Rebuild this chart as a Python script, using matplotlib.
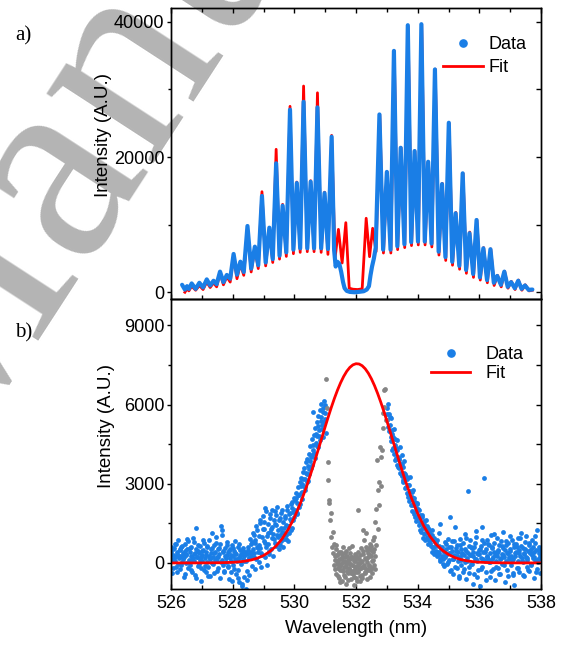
import matplotlib
matplotlib.use("Agg")
import matplotlib.pyplot as plt
from matplotlib.lines import Line2D
from matplotlib.ticker import MultipleLocator, FixedLocator, NullLocator

# ---------------- a) rotational Raman spectrum ----------------
a_data_wl = [
    526.36, 526.45, 526.52, 526.58, 526.67, 526.80, 526.92, 527.04, 527.16, 527.27,
    527.38, 527.48, 527.59, 527.70, 527.81, 527.92, 528.03, 528.14, 528.25, 528.36,
    528.48, 528.60, 528.72, 528.83, 528.95, 529.07, 529.19, 529.30, 529.41, 529.52,
    529.62, 529.74, 529.86, 529.97, 530.08, 530.19, 530.30, 530.42, 530.53, 530.64,
    530.75, 530.87, 530.98, 531.09, 531.21, 531.29, 531.34, 531.40, 531.46, 531.52,
    531.58, 531.63, 531.70, 531.80, 531.95, 532.10, 532.25, 532.35, 532.42, 532.47,
    532.52, 532.58, 532.64, 532.76, 532.88, 533.00, 533.12, 533.23, 533.34, 533.45,
    533.57, 533.68, 533.79, 533.90, 534.01, 534.12, 534.23, 534.34, 534.45, 534.56,
    534.68, 534.79, 534.90, 535.01, 535.12, 535.23, 535.35, 535.46, 535.57, 535.68,
    535.80, 535.91, 536.02, 536.13, 536.25, 536.36, 536.47, 536.58, 536.70, 536.81,
    536.92, 537.03, 537.15, 537.26, 537.37, 537.48, 537.60, 537.72,
]
a_data_counts = [
    1100, 400, 900, 500, 1300, 500, 1400, 700, 1900, 1000,
    1700, 1200, 3050, 1500, 2560, 2000, 5660, 2600, 4520, 3000,
    9800, 3500, 6740, 4000, 14240, 4400, 9550, 4900, 19070, 5400,
    12800, 5900, 27000, 6300, 16150, 6500, 28170, 6500, 16350, 6500,
    27340, 6500, 14670, 6400, 23000, 6250, 3800, 4500, 4200, 3000,
    1500, 600, 200, 50, 0, 60, 150, 400, 900, 2500,
    3800, 5000, 6600, 26300, 6300, 17800, 6300, 35700, 6800, 21370,
    7100, 39500, 7400, 20890, 7500, 39650, 7500, 19300, 7200, 32960,
    6000, 16000, 5200, 25070, 4500, 11680, 3900, 17590, 3300, 8720,
    2700, 10690, 2200, 6500, 1800, 6360, 1400, 2410, 1100, 3050,
    800, 1500, 600, 1700, 500, 1000, 350, 400,
]
a_fit_wl = [
    526.45, 526.52, 526.58, 526.67, 526.80, 526.92, 527.04, 527.16, 527.27, 527.38,
    527.48, 527.59, 527.70, 527.81, 527.92, 528.03, 528.14, 528.25, 528.36, 528.48,
    528.60, 528.72, 528.83, 528.95, 529.07, 529.19, 529.30, 529.41, 529.52, 529.62,
    529.74, 529.86, 529.97, 530.08, 530.19, 530.30, 530.42, 530.53, 530.64, 530.75,
    530.87, 530.98, 531.09, 531.21, 531.32, 531.43, 531.55, 531.67, 531.78, 531.90,
    532.05, 532.20, 532.33, 532.44, 532.54, 532.65, 532.77, 532.89, 533.01, 533.13,
    533.24, 533.35, 533.46, 533.58, 533.69, 533.80, 533.91, 534.02, 534.13, 534.24,
    534.35, 534.46, 534.57, 534.69, 534.80, 534.91, 535.02, 535.13, 535.24, 535.36,
    535.47, 535.58, 535.69, 535.81, 535.92, 536.03, 536.14, 536.26, 536.37, 536.48,
    536.59, 536.71, 536.82, 536.93, 537.04, 537.16, 537.27, 537.38, 537.49, 537.61,
    537.72,
]
a_fit_counts = [
    0, 500, 200, 900, 300, 1000, 400, 1500, 700, 1400,
    800, 2800, 1100, 2300, 1500, 5300, 2000, 4200, 2500, 9600,
    3000, 6500, 3500, 14870, 3900, 9300, 4400, 21140, 4900, 13000,
    5300, 27500, 5700, 16300, 5900, 30500, 6000, 16500, 6000, 29500,
    5900, 14800, 5600, 23200, 5000, 9300, 4330, 10290, 600, 450,
    400, 500, 10940, 5260, 9460, 6000, 26300, 5800, 17800, 5800,
    35700, 6300, 21400, 6600, 39300, 6900, 20900, 7000, 39650, 7000,
    19300, 6700, 33000, 5500, 16100, 4700, 25000, 4000, 11800, 3400,
    17600, 2800, 8900, 2200, 10700, 1800, 6600, 1400, 6400, 1000,
    2500, 800, 3100, 600, 1600, 400, 1800, 300, 1100, 200,
    300,
]

# ---------------- b) scattered-light spectrum ----------------
b_data_wl = [
    526.00, 526.02, 526.04, 526.06, 526.08,  526.10, 526.12, 526.14, 526.16, 526.18,
    526.20, 526.22, 526.24, 526.26, 526.28,  526.30, 526.32, 526.34, 526.36, 526.38,
    526.40, 526.42, 526.44, 526.46, 526.48,  526.50, 526.52, 526.54, 526.56, 526.58,
    526.60, 526.62, 526.64, 526.66, 526.68,  526.70, 526.72, 526.74, 526.76, 526.78,
    526.80, 526.82, 526.84, 526.86, 526.88,  526.90, 526.92, 526.94, 526.96, 526.98,
    527.00, 527.02, 527.04, 527.06, 527.08,  527.10, 527.12, 527.14, 527.16, 527.18,
    527.20, 527.22, 527.24, 527.26, 527.28,  527.30, 527.32, 527.34, 527.36, 527.38,
    527.40, 527.42, 527.44, 527.46, 527.48,  527.50, 527.52, 527.54, 527.56, 527.58,
    527.60, 527.62, 527.64, 527.66, 527.68,  527.70, 527.72, 527.74, 527.76, 527.78,
    527.80, 527.82, 527.84, 527.86, 527.88,  527.90, 527.92, 527.94, 527.96, 527.98,
    528.00, 528.02, 528.04, 528.06, 528.08,  528.10, 528.12, 528.14, 528.16, 528.18,
    528.20, 528.22, 528.24, 528.26, 528.28,  528.30, 528.32, 528.34, 528.36, 528.38,
    528.40, 528.42, 528.44, 528.46, 528.48,  528.50, 528.52, 528.54, 528.56, 528.58,
    528.60, 528.62, 528.64, 528.66, 528.68,  528.70, 528.72, 528.74, 528.76, 528.78,
    528.80, 528.82, 528.84, 528.86, 528.88,  528.90, 528.92, 528.94, 528.96, 528.98,
    529.00, 529.02, 529.04, 529.06, 529.08,  529.10, 529.12, 529.14, 529.16, 529.18,
    529.20, 529.22, 529.24, 529.26, 529.28,  529.30, 529.32, 529.34, 529.36, 529.38,
    529.40, 529.42, 529.44, 529.46, 529.48,  529.50, 529.52, 529.54, 529.56, 529.58,
    529.60, 529.62, 529.64, 529.66, 529.68,  529.70, 529.72, 529.74, 529.76, 529.78,
    529.80, 529.82, 529.84, 529.86, 529.88,  529.90, 529.92, 529.94, 529.96, 529.98,
    530.00, 530.02, 530.04, 530.06, 530.08,  530.10, 530.12, 530.14, 530.16, 530.18,
    530.20, 530.22, 530.24, 530.26, 530.28,  530.30, 530.32, 530.34, 530.36, 530.38,
    530.40, 530.42, 530.44, 530.46, 530.48,  530.50, 530.52, 530.54, 530.56, 530.58,
    530.60, 530.62, 530.64, 530.66, 530.68,  530.70, 530.72, 530.74, 530.76, 530.78,
    530.80, 530.82, 530.84, 530.86, 530.88,  530.90, 530.92, 530.94, 530.96, 530.98,
    531.00, 531.02,
    533.00, 533.02, 533.04, 533.06, 533.08,  533.10, 533.12, 533.14, 533.16, 533.18,
    533.20, 533.22, 533.24, 533.26, 533.28,  533.30, 533.32, 533.34, 533.36, 533.38,
    533.40, 533.42, 533.44, 533.46, 533.48,  533.50, 533.52, 533.54, 533.56, 533.58,
    533.60, 533.62, 533.64, 533.66, 533.68,  533.70, 533.72, 533.74, 533.76, 533.78,
    533.80, 533.82, 533.84, 533.86, 533.88,  533.90, 533.92, 533.94, 533.96, 533.98,
    534.00, 534.02, 534.04, 534.06, 534.08,  534.10, 534.12, 534.14, 534.16, 534.18,
    534.20, 534.22, 534.24, 534.26, 534.28,  534.30, 534.32, 534.34, 534.36, 534.38,
    534.40, 534.42, 534.44, 534.46, 534.48,  534.50, 534.52, 534.54, 534.56, 534.58,
    534.60, 534.62, 534.64, 534.66, 534.68,  534.70, 534.72, 534.74, 534.76, 534.78,
    534.80, 534.82, 534.84, 534.86, 534.88,  534.90, 534.92, 534.94, 534.96, 534.98,
    535.00, 535.02, 535.04, 535.06, 535.08,  535.10, 535.12, 535.14, 535.16, 535.18,
    535.20, 535.22, 535.24, 535.26, 535.28,  535.30, 535.32, 535.34, 535.36, 535.38,
    535.40, 535.42, 535.44, 535.46, 535.48,  535.50, 535.52, 535.54, 535.56, 535.58,
    535.60, 535.62, 535.64, 535.66, 535.68,  535.70, 535.72, 535.74, 535.76, 535.78,
    535.80, 535.82, 535.84, 535.86, 535.88,  535.90, 535.92, 535.94, 535.96, 535.98,
    536.00, 536.02, 536.04, 536.06, 536.08,  536.10, 536.12, 536.14, 536.16, 536.18,
    536.20, 536.22, 536.24, 536.26, 536.28,  536.30, 536.32, 536.34, 536.36, 536.38,
    536.40, 536.42, 536.44, 536.46, 536.48,  536.50, 536.52, 536.54, 536.56, 536.58,
    536.60, 536.62, 536.64, 536.66, 536.68,  536.70, 536.72, 536.74, 536.76, 536.78,
    536.80, 536.82, 536.84, 536.86, 536.88,  536.90, 536.92, 536.94, 536.96, 536.98,
    537.00, 537.02, 537.04, 537.06, 537.08,  537.10, 537.12, 537.14, 537.16, 537.18,
    537.20, 537.22, 537.24, 537.26, 537.28,  537.30, 537.32, 537.34, 537.36, 537.38,
    537.40, 537.42, 537.44, 537.46, 537.48,  537.50, 537.52, 537.54, 537.56, 537.58,
    537.60, 537.62, 537.64, 537.66, 537.68,  537.70, 537.72, 537.74, 537.76, 537.78,
    537.80, 537.82, 537.84, 537.86, 537.88,  537.90, 537.92, 537.94, 537.96, 537.98,
    538.00,
]
b_data_counts = [
    620, 150, -380, 310, 540,  90, 700, 230, -150, 410,
    330, -60, 860, 180, 520,  -240, 270, 610, 40, 380,
    150, -520, 460, 720, 10,  290, 540, -210, 830, 120,
    400, -90, 250, 600, -350,  180, 950, 70, 330, -460,
    520, 1330, 210, -120, 460,  -40, 380, 640, -680, 240,
    310, 70, 490, -270, 760,  190, -330, 420, 50, 600,
    -150, 280, 850, 130, -490,  360, 560, -20, 240, 690,
    -380, 120, 410, 970, 60,  230, -210, 530, 340, -560,
    720, 1380, 100, 1060, -90,  450, -300, 260, 580, 20,
    310, 790, -140, 410, -620,  180, 520, 60, -350, 660,
    270, -80, 470, 150, 830,  -420, 340, 90, 610, -260,
    200, -710, 480, -30, 350,  -880, 150, 560, -540, 260,
    420, -970, 80, 320, -300,  610, 190, -450, 380, 720,
    250, 780, -120, 540, 1050,  390, -230, 870, 160, 620,
    1240, 430, 20, 690, 1520,  560, -140, 980, 310, 1770,
    820, 1290, 240, 2080, 610,  1020, -80, 1480, 730, 340,
    1190, 1860, 520, 930, 1350,  270, 1100, 1640, 760, 1980,
    1420, 640, 2130, 980, 1240,  530, 1710, 1060, 1890, 820,
    1180, 620, 1540, 890, 1320,  1760, 1040, 1450, 2010, 830,
    1390, 1850, 1120, 1670, 2240,  1580, 2090, 1310, 1940, 2460,
    1730, 2380, 1960, 2650, 1840,  2270, 2890, 2120, 2560, 3080,
    2640, 3210, 2430, 2980, 3460,  2910, 3590, 3170, 2780, 3820,
    3370, 3930, 3120, 4140, 3560,  3880, 4420, 3610, 4690, 4070,
    5730, 4280, 4860, 3970, 5120,  4540, 5330, 4790, 5560, 4380,
    5020, 5780, 4650, 5390, 6010,  5240, 4760, 5880, 6120, 5470,
    5690, 4930,
    5870, 5420, 6010, 4980, 5640,  5210, 4630, 5480, 4890, 4270,
    4780, 4120, 5060, 4450, 3890,  4360, 3710, 4640, 4020, 3580,
    3990, 4410, 3420, 3760, 4070,  3290, 3640, 3050, 3860, 3370,
    2840, 3310, 2660, 3180, 2490,  2970, 2350, 2710, 3260, 2180,
    2510, 1980, 2760, 2240, 1870,  2310, 1740, 2080, 1590, 2270,
    1690, 2050, 1420, 1830, 1260,  1530, 1180, 1740, 1350, 950,
    1110, 1470, 870, 1290, 1620,  980, 1310, 720, 1150, 860,
    1080, 640, 920, 410, 1260,  560, 930, 320, 780, 470,
    640, 250, 870, 410, 1120,  380, 1480, 90, 540, 260,
    610, 150, 430, -120, 790,  280, 520, -60, 340, 900,
    610, 110, 1730, 360, -250,  470, 820, 140, -420, 300,
    1360, 250, 560, -180, 690,  80, 430, -560, 920, 210,
    540, -90, 330, 760, -340,  290, 1090, 20, 470, -610,
    180, 2720, 390, -150, 650,  860, -30, 310, 550, -790,
    250, 620, -420, 140, 980,  1210, 70, 390, -260, 500,
    330, -880, 640, 180, 1360,  -140, 420, 3200, 760, 60,
    510, -350, 240, 880, 130,  690, 20, -520, 370, 1050,
    160, 580, -230, 420, 740,  -650, 310, 90, 940, 260,
    450, -180, 680, 150, -410,  820, 330, -60, 570, 1180,
    210, -720, 480, 90, 660,  -280, 390, 750, 140, 1010,
    540, -90, 280, 860, -450,  160, 620, -840, 360, 710,
    420, -210, 930, 70, 500,  -350, 260, 640, 1140, 190,
    580, 30, -480, 370, 810,  240, 1020, 110, -160, 450,
    690, -300, 380, 540, -60,  300, 850, 170, -590, 430,
    760, 120, 490, -220, 1260,  50, 360, 620, 200, -380,
    480,
]

# second readout pass of the same spectrum (odd channels)
b_data2_wl = [
    526.01, 526.05, 526.09, 526.13, 526.17, 526.21, 526.25, 526.29, 526.33, 526.37,
    526.41, 526.45, 526.49, 526.53, 526.57, 526.61, 526.65, 526.69, 526.73, 526.77,
    526.81, 526.85, 526.89, 526.93, 526.97,
    527.01, 527.05, 527.09, 527.13, 527.17, 527.21, 527.25, 527.29, 527.33, 527.37,
    527.41, 527.45, 527.49, 527.53, 527.57, 527.61, 527.65, 527.69, 527.73, 527.77,
    527.81, 527.85, 527.89, 527.93, 527.97,
    528.01, 528.05, 528.09, 528.13, 528.17, 528.21, 528.25, 528.29, 528.33, 528.37,
    528.41, 528.45, 528.49, 528.53, 528.57, 528.61, 528.65, 528.69, 528.73, 528.77,
    528.81, 528.85, 528.89, 528.93, 528.97,
    529.01, 529.05, 529.09, 529.13, 529.17, 529.21, 529.25, 529.29, 529.33, 529.37,
    529.41, 529.45, 529.49, 529.53, 529.57, 529.61, 529.65, 529.69, 529.73, 529.77,
    529.81, 529.85, 529.89, 529.93, 529.97,
    530.01, 530.05, 530.09, 530.13, 530.17, 530.21, 530.25, 530.29, 530.33, 530.37,
    530.41, 530.45, 530.49, 530.53, 530.57, 530.61, 530.65, 530.69, 530.73, 530.77,
    530.81, 530.85, 530.89, 530.93, 530.97,
    531.01,
    533.01, 533.05, 533.09, 533.13, 533.17, 533.21, 533.25, 533.29, 533.33, 533.37,
    533.41, 533.45, 533.49, 533.53, 533.57, 533.61, 533.65, 533.69, 533.73, 533.77,
    533.81, 533.85, 533.89, 533.93, 533.97,
    534.01, 534.05, 534.09, 534.13, 534.17, 534.21, 534.25, 534.29, 534.33, 534.37,
    534.41, 534.45, 534.49, 534.53, 534.57, 534.61, 534.65, 534.69, 534.73, 534.77,
    534.81, 534.85, 534.89, 534.93, 534.97,
    535.01, 535.05, 535.09, 535.13, 535.17, 535.21, 535.25, 535.29, 535.33, 535.37,
    535.41, 535.45, 535.49, 535.53, 535.57, 535.61, 535.65, 535.69, 535.73, 535.77,
    535.81, 535.85, 535.89, 535.93, 535.97,
    536.01, 536.05, 536.09, 536.13, 536.17, 536.21, 536.25, 536.29, 536.33, 536.37,
    536.41, 536.45, 536.49, 536.53, 536.57, 536.61, 536.65, 536.69, 536.73, 536.77,
    536.81, 536.85, 536.89, 536.93, 536.97,
    537.01, 537.05, 537.09, 537.13, 537.17, 537.21, 537.25, 537.29, 537.33, 537.37,
    537.41, 537.45, 537.49, 537.53, 537.57, 537.61, 537.65, 537.69, 537.73, 537.77,
    537.81, 537.85, 537.89, 537.93, 537.97,
]
b_data2_counts = [
    410, -180, 560, 90, 730, -330, 260, 480, -70, 640,
    210, -420, 350, 920, 30, 570, -260, 140, 810, 380,
    -560, 240, 690, 110, -190,
    450, 860, -110, 300, 640, -480, 190, 520, 1120, -50,
    370, 760, -290, 230, 580, 20, 1240, 410, -360, 170,
    690, -130, 440, 310, -700,
    560, -240, 380, 130, -590, 720, 260, -810, 450, 60,
    330, -660, 500, 180, 890, 420, 1130, 230, 760, 1390,
    580, 1010, 1640, 370, 1280,
    1560, 740, 1950, 1130, 460, 1720, 1280, 2010, 890, 1460,
    1830, 1070, 1610, 680, 1340, 1990, 1150, 1700, 920, 2170,
    1410, 1880, 1230, 2290, 1620,
    2010, 2460, 1880, 2570, 2240, 2930, 2680, 3190, 2860, 3420,
    3080, 3690, 3350, 4020, 3710, 4450, 4170, 4880, 4420, 5170,
    4790, 5540, 5080, 5720, 5350,
    5980,
    5660, 5140, 5530, 4760, 5020, 4340, 4690, 3980, 4280, 3620,
    3910, 3380, 3740, 3130, 3420, 2890, 3210, 2620, 2960, 2410,
    2690, 2180, 2470, 1960, 2230,
    1780, 2010, 1540, 1800, 1310, 1580, 1150, 1390, 920, 1230,
    760, 1040, 590, 880, 420, 760, 290, 650, 150, 560,
    -40, 470, 210, 720, 30,
    380, -310, 590, 140, 820, -170, 450, 260, -480, 690,
    110, 370, -220, 540, 950, 80, -390, 300, 610, -60,
    420, 770, 150, -540, 330,
    520, -240, 880, 130, 410, -630, 270, 700, 40, -310,
    590, 240, 1090, -150, 360, 480, -420, 170, 650, 290,
    -80, 830, 380, -510, 220,
    460, 110, -370, 720, 250, 590, -190, 380, 940, 60,
    -460, 330, 510, 180, -280, 770, 400, -90, 620, 240,
    1030, -330, 150, 490, 280,
]

# points inside the laser-line notch (filter region)
b_notch_wl = [
    531.04, 531.06, 531.08, 531.10, 531.12,  531.14, 531.16, 531.18, 531.20, 531.22,
    531.24, 531.26, 531.28, 531.30, 531.32,  531.34, 531.36, 531.38, 531.40, 531.42,
    531.44, 531.46, 531.48, 531.50, 531.52,  531.54, 531.56, 531.58, 531.60, 531.62,
    531.64, 531.66, 531.68, 531.70, 531.72,  531.74, 531.76, 531.78, 531.80, 531.82,
    531.84, 531.86, 531.88, 531.90, 531.92,  531.94, 531.96, 531.98, 532.00, 532.02,
    532.04, 532.06, 532.08, 532.10, 532.12,  532.14, 532.16, 532.18, 532.20, 532.22,
    532.24, 532.26, 532.28, 532.30, 532.32,  532.34, 532.36, 532.38, 532.40, 532.42,
    532.44, 532.46, 532.48, 532.50, 532.52,  532.54, 532.56, 532.58, 532.60, 532.62,
    532.64, 532.66, 532.68, 532.70, 532.72,  532.74, 532.76, 532.78, 532.80, 532.82,
    532.84, 532.86, 532.88, 532.90, 532.92,  532.94, 532.96,
    531.31, 531.33, 531.35, 531.37, 531.39,  531.41, 531.43, 531.45, 531.47, 531.49,
    531.51, 531.53, 531.55, 531.57, 531.59,  531.61, 531.63, 531.65, 531.67, 531.69,
    531.71, 531.73, 531.75, 531.77, 531.79,  531.81, 531.83, 531.85, 531.87, 531.89,
    531.91, 531.93, 531.95, 531.97, 531.99,  532.01, 532.03, 532.05, 532.07, 532.09,
    532.11, 532.13, 532.15, 532.17, 532.19,  532.21, 532.23, 532.25, 532.27, 532.29,
    532.31, 532.33, 532.35, 532.37, 532.39,  532.41, 532.43, 532.45, 532.47, 532.49,
    532.51, 532.53, 532.55, 532.57, 532.59,  532.61,
]
b_notch_counts = [
    6960, 5860, 3840, 3140, 2380,  2270, 1630, 1890, 980, 600,
    1160, 380, 720, -90, 260,  -420, 510, 60, -180, 330,
    -560, 140, -250, 420, -30,  -680, 210, -310, 90, -460,
    370, -140, -790, 40, 280,  -380, -20, 560, -270, 130,
    -610, -90, 240, -430, -850,  60, -220, 350, -560, -120,
    170, -330, 2000, -40, -690,  300, -210, 80, -460, 440,
    1250, -150, 190, -380, 610,  1140, 20, -270, 380, -90,
    720, -530, 250, 480, -180,  860, 110, 530, -240, 1540,
    690, 2030, 3900, 1280, 2780,  2190, 3050, 4400, 4010, 2920,
    4290, 5100, 5680, 5900, 6540,  6600, 5400,
    120, -240, 680, -60, 290,  -510, 30, 410, -130, -720,
    160, 320, -280, 40, 590,  -170, -540, 230, -30, 450,
    -320, -660, 110, -190, 370,  -50, 240, -400, 640, -290,
    180, -120, -520, 90, -350,  270, -700, -10, 420, -240,
    150, -480, 50, 560, -160,  -580, 330, -70, 870, -340,
    130, -220, 480, -610, 240,  560, -120, 310, -260, 640,
    90, -370, 420, -80, 980,  270,
]

b_fit_wl = [
    526.0, 526.4, 526.8, 527.2, 527.6, 528.0, 528.2, 528.4, 528.6, 528.8,
    529.0, 529.2, 529.4, 529.6, 529.8, 530.0, 530.2, 530.4, 530.6, 530.8,
    531.0, 531.1, 531.2, 531.3, 531.4, 531.5, 531.6, 531.7, 531.8, 531.9,
    532.0, 532.1, 532.2, 532.3, 532.4, 532.5, 532.6, 532.7, 532.8, 532.9,
    533.0, 533.2, 533.4, 533.6, 533.8, 534.0, 534.2, 534.4, 534.6, 534.8,
    535.0, 535.2, 535.4, 535.6, 535.8, 536.0, 536.4, 536.8, 537.2, 537.6,
    538.0,
]
b_fit_counts = [
    0, 0, 0, 2, 7, 22, 39, 66, 111, 178,
    280, 426, 630, 906, 1266, 1719, 2269, 2908, 3624, 4386,
    5158, 5533, 5895, 6235, 6547, 6825, 7065, 7261, 7408, 7504,
    7548, 7537, 7472, 7355, 7188, 6975, 6719, 6426, 6102, 5753,
    5385, 4618, 3848, 3116, 2452, 1874, 1392, 1005, 705, 480,
    318, 205, 128, 78, 46, 26, 8, 2, 0, 0,
    0,
]

x_ticks = [526, 528, 530, 532, 534, 536, 538]
a_yticks = [0, 20000, 40000]
b_yticks = [0, 3000, 6000, 9000]

BLUE = "#1a7ee6"
RED = "#ff0000"
GREY = "#858585"
SANS = "Liberation Sans"
SERIF = "Liberation Serif"

plt.rcParams["font.family"] = SANS
plt.rcParams["font.size"] = 13

fig = plt.figure(figsize=(5.61, 6.48), dpi=100)
fig.patch.set_facecolor("white")

W, H = 561.0, 648.0
ax_a = fig.add_axes([171 / W, 1 - 299 / H, 370 / W, 290.7 / H])
ax_b = fig.add_axes([171 / W, 1 - 589.3 / H, 370 / W, 290.3 / H])

# large grey watermark lettering behind the panels
fig.text(-55 / W, 1 - 472 / H, "Manuscript", family=SERIF, fontsize=200,
         color="#b4b4b4", rotation=57, rotation_mode="anchor",
         ha="left", va="baseline", zorder=-1)

# --- panel a ---
ax_a.plot(a_fit_wl, a_fit_counts, color=RED, lw=2.0, zorder=2,
          solid_joinstyle="round")
ax_a.plot(a_data_wl, a_data_counts, color=BLUE, lw=3.0, zorder=3,
          solid_joinstyle="round", solid_capstyle="round")
ax_a.set_xlim(526, 538)
ax_a.set_ylim(-1000, 42000)

# --- panel b ---
ax_b.scatter(b_data_wl, b_data_counts, s=12, color=BLUE, lw=0, zorder=2)
ax_b.scatter(b_data2_wl, b_data2_counts, s=12, color=BLUE, lw=0, zorder=2)
ax_b.scatter(b_notch_wl, b_notch_counts, s=12, color=GREY, lw=0, zorder=2)
ax_b.plot(b_fit_wl, b_fit_counts, color=RED, lw=2.0, zorder=3)
ax_b.set_xlim(526, 538)
ax_b.set_ylim(-1000, 10000)

for ax, yt, minor_step, label_pos in ((ax_a, a_yticks, 10000, (-0.159, 0.564)),
                                      (ax_b, b_yticks, 1500, (-0.151, 0.5625))):
    ax.set_facecolor("none")
    for sp in ax.spines.values():
        sp.set_linewidth(1.0)
    ax.xaxis.set_major_locator(FixedLocator(x_ticks))
    ax.xaxis.set_minor_locator(MultipleLocator(1))
    ax.yaxis.set_major_locator(FixedLocator(yt))
    ax.yaxis.set_minor_locator(MultipleLocator(minor_step))
    ax.tick_params(axis="y", which="both", direction="out", left=True,
                   right=False, labelsize=13, pad=1.5)
    ax.tick_params(axis="y", which="major", length=3.1, width=1.0)
    ax.tick_params(axis="y", which="minor", length=2.0, width=1.0)
    ax.tick_params(axis="x", which="major", direction="in", length=3.8, width=1.0)
    ax.tick_params(axis="x", which="minor", direction="in", length=3.0, width=1.0)
    ax.set_ylabel("Intensity (A.U.)", fontsize=13.5)
    ax.yaxis.set_label_coords(*label_pos)

    # inward ticks along the right edge
    axr = ax.twinx()
    axr.set_ylim(ax.get_ylim())
    axr.yaxis.set_major_locator(MultipleLocator(minor_step))
    axr.yaxis.set_minor_locator(NullLocator())
    axr.tick_params(axis="y", direction="in", length=3.6, width=1.0,
                    labelright=False)
    for sp in axr.spines.values():
        sp.set_linewidth(1.0)

ax_a.tick_params(axis="x", which="both", top=True, bottom=True, labelbottom=False)
ax_b.tick_params(axis="x", which="both", top=False, bottom=True,
                 labelsize=13, pad=4)
ax_b.set_xlabel("Wavelength (nm)", fontsize=13.5)
ax_b.xaxis.set_label_coords(0.5, -0.105)

# legends
data_handle = Line2D([], [], ls="none", marker="o", ms=5.2, color=BLUE)
fit_handle = Line2D([], [], color=RED, lw=2.0)
ax_a.legend([data_handle, fit_handle], ["Data", "Fit"], loc="upper left",
            bbox_to_anchor=(0.736, 0.905), frameon=False, fontsize=13,
            handlelength=2.2, handletextpad=0.3, borderpad=0,
            borderaxespad=0, labelspacing=0.35)
ax_b.legend([data_handle, fit_handle], ["Data", "Fit"], loc="upper left",
            bbox_to_anchor=(0.702, 0.838), frameon=False, fontsize=13,
            handlelength=2.2, handletextpad=0.83, borderpad=0,
            borderaxespad=0, labelspacing=0.1)

# panel letters
fig.text(15 / W, 1 - 36 / H, "a)", family=SERIF, fontsize=15, ha="left", va="center")
fig.text(15 / W, 1 - 333 / H, "b)", family=SERIF, fontsize=15, ha="left", va="center")

fig.savefig("out.png", dpi=100)
